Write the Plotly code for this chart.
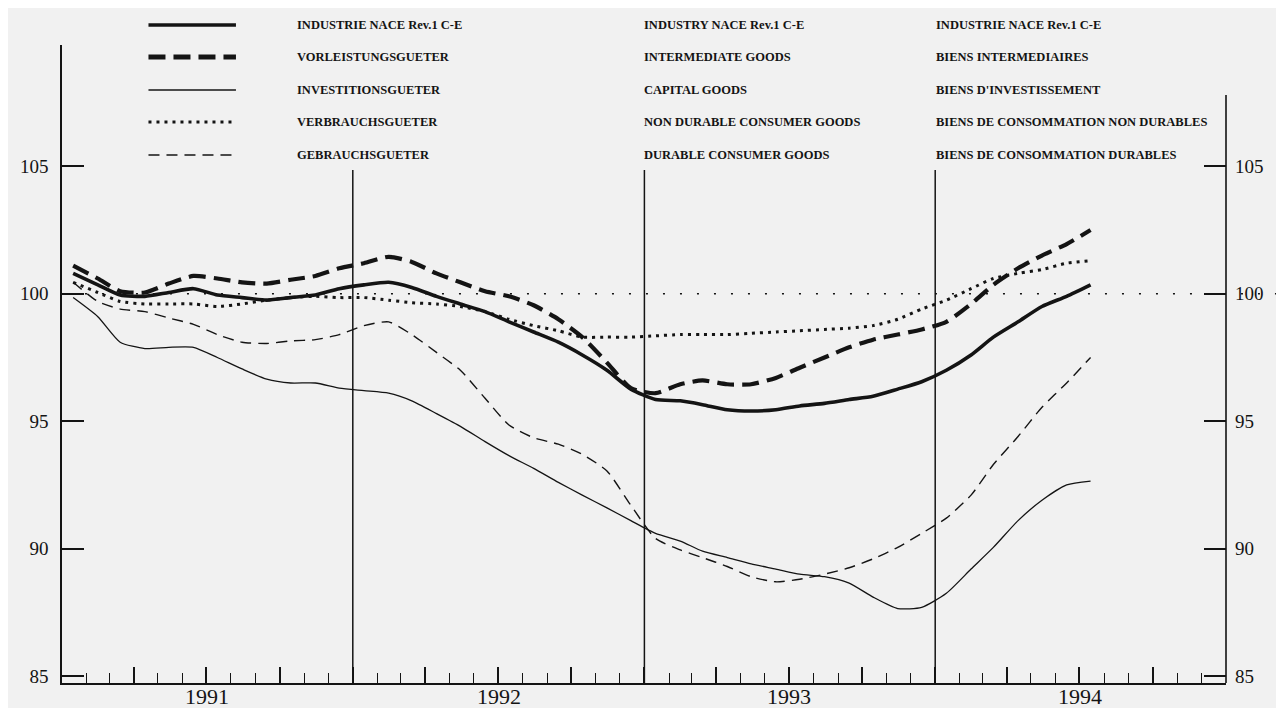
import plotly.graph_objects as go

# Monthly trend-cycle indices, Jan 1991 - Jul 1994 (100 = reference level)
MONTHS = [f"{1991 + i // 12}-{i % 12 + 1:02d}-15" for i in range(43)]

INDUSTRY = [100.8, 100.35, 99.95, 99.9, 100.05, 100.2, 99.95, 99.85, 99.75, 99.85, 99.95, 100.2,
            100.35, 100.45, 100.25, 99.9, 99.6, 99.3, 98.9, 98.5, 98.1, 97.6, 97.0, 96.26,
            95.85, 95.8, 95.65, 95.45, 95.4, 95.45, 95.6, 95.7, 95.85, 95.98, 96.26, 96.55,
            97.0, 97.6, 98.3, 98.9, 99.5, 99.9, 100.35]
INTERMEDIATE = [101.1, 100.6, 100.1, 100.05, 100.4, 100.7, 100.6, 100.45, 100.4, 100.55, 100.7, 101.0,
                101.2, 101.45, 101.25, 100.8, 100.45, 100.1, 99.9, 99.55, 99.0, 98.3, 97.3, 96.3,
                96.1, 96.45, 96.6, 96.45, 96.45, 96.7, 97.1, 97.5, 97.9, 98.2, 98.4, 98.6,
                98.9, 99.6, 100.35, 101.0, 101.5, 101.95, 102.5]
CAPITAL = [99.85, 99.1, 98.1, 97.85, 97.9, 97.9, 97.5, 97.05, 96.65, 96.5, 96.5, 96.3,
           96.2, 96.1, 95.8, 95.3, 94.8, 94.2, 93.65, 93.15, 92.6, 92.1, 91.6, 91.1,
           90.6, 90.3, 89.9, 89.65, 89.4, 89.2, 89.0, 88.9, 88.65, 88.1, 87.65, 87.7,
           88.25, 89.2, 90.05, 91.1, 91.9, 92.5, 92.65]
NON_DURABLE = [100.45, 100.05, 99.7, 99.6, 99.6, 99.6, 99.5, 99.6, 99.75, 99.85, 99.9, 99.85,
               99.85, 99.75, 99.65, 99.6, 99.5, 99.3, 99.0, 98.75, 98.55, 98.3, 98.3, 98.3,
               98.35, 98.4, 98.4, 98.4, 98.45, 98.5, 98.55, 98.6, 98.65, 98.75, 99.0, 99.4,
               99.75, 100.2, 100.6, 100.8, 100.95, 101.2, 101.3]
DURABLE = [100.45, 99.7, 99.4, 99.3, 99.05, 98.8, 98.4, 98.1, 98.05, 98.15, 98.2, 98.4,
           98.75, 98.9, 98.4, 97.7, 97.0, 95.9, 94.85, 94.35, 94.1, 93.7, 93.05, 91.7,
           90.4, 89.95, 89.65, 89.3, 88.9, 88.7, 88.8, 89.0, 89.25, 89.6, 90.05, 90.6,
           91.2, 92.1, 93.3, 94.4, 95.55, 96.5, 97.5]

LABELS_DE = ["INDUSTRIE NACE Rev.1 C-E", "VORLEISTUNGSGUETER", "INVESTITIONSGUETER",
             "VERBRAUCHSGUETER", "GEBRAUCHSGUETER"]
LABELS_EN = ["INDUSTRY NACE Rev.1 C-E", "INTERMEDIATE GOODS", "CAPITAL GOODS",
             "NON DURABLE CONSUMER GOODS", "DURABLE CONSUMER GOODS"]
LABELS_FR = ["INDUSTRIE NACE Rev.1 C-E", "BIENS INTERMEDIAIRES", "BIENS D'INVESTISSEMENT",
             "BIENS DE CONSOMMATION NON DURABLES", "BIENS DE CONSOMMATION DURABLES"]

YEARS = ["1991", "1992", "1993", "1994"]
Y_TICKS = [85, 90, 95, 100, 105]

INK = "#141414"
BG = "#f1f1f1"
SERIF = "Liberation Serif, DejaVu Serif, serif"

STYLES = [
    {"width": 3.6, "dash": "solid"},
    {"width": 4.2, "dash": "17px,8px"},
    {"width": 1.3, "dash": "solid"},
    {"width": 3.0, "dash": "3px,5px"},
    {"width": 1.4, "dash": "11px,7px"},
]
SERIES = [INDUSTRY, INTERMEDIATE, CAPITAL, NON_DURABLE, DURABLE]

# The page body keeps its default 8px margin, so the figure is sized to fit
# inside it and the plot box is placed in window pixels.
OFF = 8
W, H = 1284 - 2 * OFF, 716 - 2 * OFF
L, R, T, B = 56, 1227, 45, 683          # plot box, window pixels
Y_RANGE = [84.73, 109.76]


def px_x(px):
    return (px - L) / (R - L)


def px_y(py):
    return (B - py) / (B - T)


fig = go.Figure()
for vals, st, name in zip(SERIES, STYLES, LABELS_EN):
    fig.add_trace(go.Scatter(
        x=MONTHS, y=vals, mode="lines", name=name,
        line={"color": INK, "width": st["width"], "dash": st["dash"], "shape": "spline", "smoothing": 0.6},
        showlegend=False,
    ))
# invisible trace to carry the right-hand axis
fig.add_trace(go.Scatter(x=MONTHS[:1], y=[100], yaxis="y2", mode="markers",
                         marker={"opacity": 0}, showlegend=False, hoverinfo="skip"))

shapes = []
# reference line at 100
shapes.append({"type": "line", "xref": "paper", "yref": "y", "x0": px_x(62), "x1": px_x(1278),
               "y0": 100, "y1": 100, "line": {"color": INK, "width": 1.6, "dash": "2px,15px"}})
# year separators
for yr in YEARS[1:]:
    shapes.append({"type": "line", "xref": "x", "yref": "paper", "x0": f"{yr}-01-01", "x1": f"{yr}-01-01",
                   "y0": 0, "y1": px_y(170), "line": {"color": INK, "width": 1.5}})
# right-hand axis line
shapes.append({"type": "line", "xref": "paper", "yref": "paper", "x0": 1, "x1": 1,
               "y0": 0, "y1": px_y(95), "line": {"color": INK, "width": 1.6}})

annotations = []
rows_y = [25, 57, 90, 122, 155]
for i, (st, de, en, fr) in enumerate(zip(STYLES, LABELS_DE, LABELS_EN, LABELS_FR)):
    yy = px_y(rows_y[i])
    shapes.append({"type": "line", "xref": "paper", "yref": "paper", "x0": px_x(143), "x1": px_x(231),
                   "y0": yy, "y1": yy,
                   "line": {"color": INK, "width": st["width"] + (0.6 if i == 1 else 0), "dash": st["dash"]}})
    for txt, xx in ((de, 290), (en, 639), (fr, 933)):
        annotations.append({"text": f"<b>{txt}</b>", "xref": "paper", "yref": "paper",
                            "x": px_x(xx), "y": yy, "xanchor": "left", "yanchor": "middle",
                            "showarrow": False, "font": {"family": SERIF, "size": 12.5, "color": INK}})

for yr in YEARS:
    annotations.append({"text": yr, "xref": "x", "yref": "paper", "x": f"{yr}-07-02",
                        "y": px_y(696), "xanchor": "center", "yanchor": "middle", "showarrow": False,
                        "font": {"family": SERIF, "size": 22, "color": INK}})

axis_font = {"family": SERIF, "size": 19, "color": INK}
fig.update_layout(
    width=W, height=H,
    margin={"l": L - OFF, "r": (W + OFF) - R, "t": T - OFF, "b": (H + OFF) - B, "pad": 0},
    paper_bgcolor=BG, plot_bgcolor=BG,
    xaxis={
        "type": "date", "range": ["1991-01-01", "1995-01-01"],
        "showgrid": False, "zeroline": False,
        "showline": True, "linecolor": INK, "linewidth": 1.8,
        "ticks": "inside", "ticklen": 16, "tickwidth": 1.5, "tickcolor": INK,
        "tick0": "1991-01-01", "dtick": "M3", "showticklabels": False,
        "minor": {"ticks": "inside", "ticklen": 10, "tickwidth": 1.3, "tickcolor": INK,
                  "tick0": "1991-01-01", "dtick": "M1", "showgrid": False},
    },
    yaxis={
        "range": Y_RANGE, "showgrid": False, "zeroline": False,
        "showline": True, "linecolor": INK, "linewidth": 1.6,
        "tickvals": Y_TICKS, "ticks": "inside", "ticklen": 22, "tickwidth": 1.5, "tickcolor": INK,
        "tickfont": axis_font, "ticklabelstandoff": 8,
    },
    yaxis2={
        "range": Y_RANGE, "overlaying": "y", "side": "right", "showgrid": False, "zeroline": False,
        "showline": False, "tickvals": Y_TICKS, "ticks": "inside", "ticklen": 22, "tickwidth": 1.5,
        "tickcolor": INK, "tickfont": axis_font, "ticklabelstandoff": 8,
    },
    shapes=shapes,
    annotations=annotations,
)

fig.write_html("out.html")
